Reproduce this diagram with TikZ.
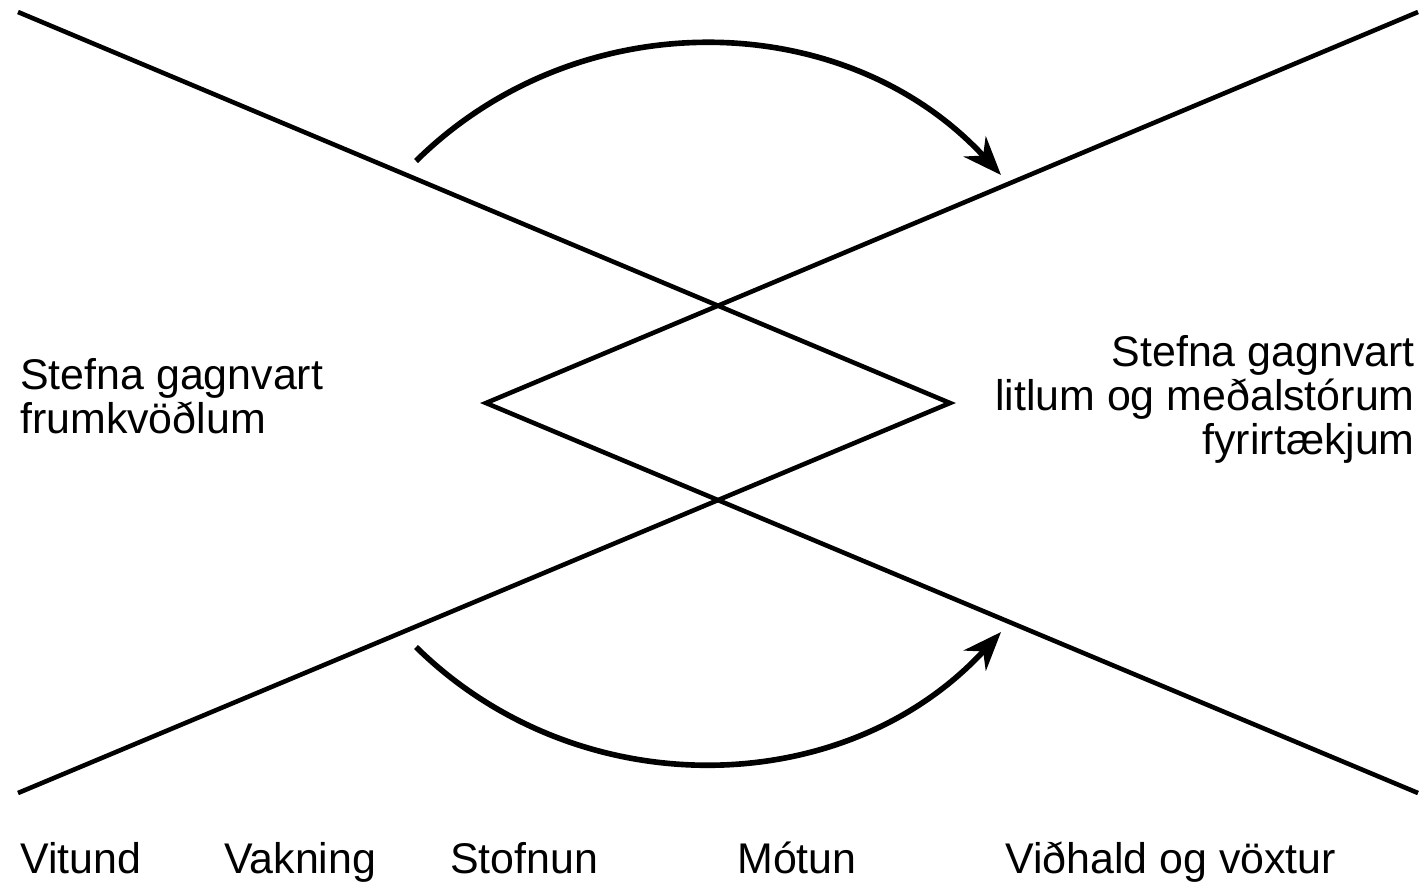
\documentclass[tikz,border=0pt]{standalone}
\usepackage{fontspec}
\setmainfont{Liberation Sans}
\usetikzlibrary{arrows.meta}

\begin{document}
\begin{tikzpicture}[x=0.01cm, y=-0.01cm, line width=1.3pt,
  lbl/.style={inner sep=0pt, font=\fontsize{12.2}{12.4}\selectfont},
  bogen/.style={line width=1.6pt, -{Stealth[length=11pt, width=8.5pt, inset=3.5pt]}}]
  \useasboundingbox (0,0) rectangle (1425,884);
  % Eckpunkte der beiden Winkel
  \coordinate (tl) at (18,12);
  \coordinate (bl) at (18,793);
  \coordinate (tr) at (1418,12);
  \coordinate (br) at (1418,793);
  \coordinate (rv) at (950,403);
  \coordinate (lv) at (486,403);
  \draw (tl) -- (rv) -- (bl);
  \draw (tr) -- (lv) -- (br);
  % Bögen oben und unten
  \coordinate (o1) at (416,161);
  \coordinate (o2) at (1001,175);
  \coordinate (u1) at (416,647);
  \coordinate (u2) at (1001,632);
  \draw[bogen] (o1) to[bend left=46] (o2);
  \draw[bogen] (u1) to[bend right=46] (u2);
  % Beschriftungen (Grundlinie der letzten Zeile)
  \node[lbl, anchor=base west, align=left] (links) at (18,433) {Stefna gagnvart\\frumkvöðlum};
  \node[lbl, anchor=base east, align=right] (rechts) at (1417,454) {Stefna gagnvart\\litlum og meðalstórum\\fyrirtækjum};
  \node[lbl, anchor=base west] (vitund) at (18,873) {Vitund};
  \node[lbl, anchor=base west] (vakning) at (222,873) {Vakning};
  \node[lbl, anchor=base west] (stofnun) at (448,873) {Stofnun};
  \node[lbl, anchor=base west] (motun) at (735,873) {Mótun};
  \node[lbl, anchor=base west] (vidhald) at (1003,873) {Viðhald og vöxtur};
\end{tikzpicture}
\end{document}
